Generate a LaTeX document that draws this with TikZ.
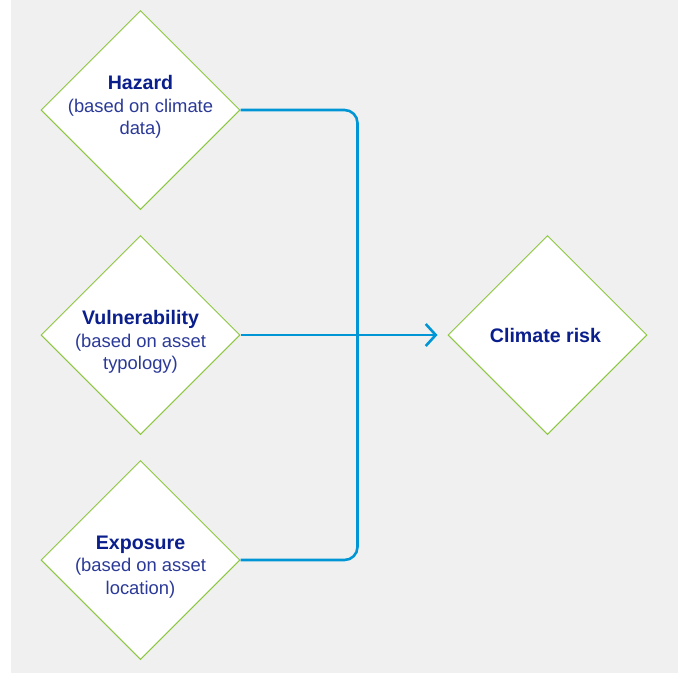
\documentclass[tikz,border=0pt]{standalone}
\usepackage{fontspec}
\setmainfont{Liberation Sans}
\usepackage{xcolor}
\usetikzlibrary{positioning, arrows.meta, shapes.geometric}

\definecolor{bggray}{HTML}{F0F0F0}
\definecolor{leafgreen}{HTML}{8DC63F}
\definecolor{flowblue}{HTML}{0096D6}
\definecolor{navy}{HTML}{0A1E8C}
\definecolor{navylight}{HTML}{2B3A98}

\newcommand{\headtxt}[1]{{\fontsize{19.6}{22.5}\selectfont\bfseries\color{navy}#1}}

\begin{document}
\begin{tikzpicture}[
    x=1pt, y=1pt,
    node distance=25pt and 207pt,
    every node/.style={font=\fontsize{18.4}{22.5}\selectfont},
    diam/.style={shape=diamond, aspect=1, draw=leafgreen, line width=1pt, fill=white, minimum width=199pt, minimum height=199pt, inner sep=0pt},
    lbl/.style={align=center, text=navylight, inner sep=0pt},
    link/.style={flowblue, line width=2.6pt},
    arr/.style={link, -{Straight Barb[length=10pt, width=22pt]}},
]

% ---- Background ----
\fill[white] (0,0) rectangle (678,-673);
\fill[bggray] (11,0) rectangle (678,-673);

% ---- Input diamonds ----
\node[diam] (haz) at (140.5,-110) {};
\node[diam, below=25pt of haz] (vul) {};
\node[diam, below=25pt of vul] (expo) {};

\node[lbl, yshift=3pt] (haztxt) at (haz) {\headtxt{Hazard}\\(based on climate\\data)};
\node[lbl, yshift=-7pt] (vultxt) at (vul) {\headtxt{Vulnerability}\\(based on asset\\typology)};
\node[lbl, yshift=-7pt] (expotxt) at (expo) {\headtxt{Exposure}\\(based on asset\\location)};

% ---- Result ----
\node[diam, right=207pt of vul] (risk) {};
\node[lbl, xshift=-2pt] (risktxt) at (risk) {\headtxt{Climate risk}};

% ---- Connectors ----
\coordinate[right=117pt of vul.east] (bus);
\draw[link, rounded corners=13pt] (haz.east) -| (bus) |- (expo.east);
\draw[arr, shorten >=10pt] (vul.east) -- (risk.west);

\end{tikzpicture}
\end{document}
